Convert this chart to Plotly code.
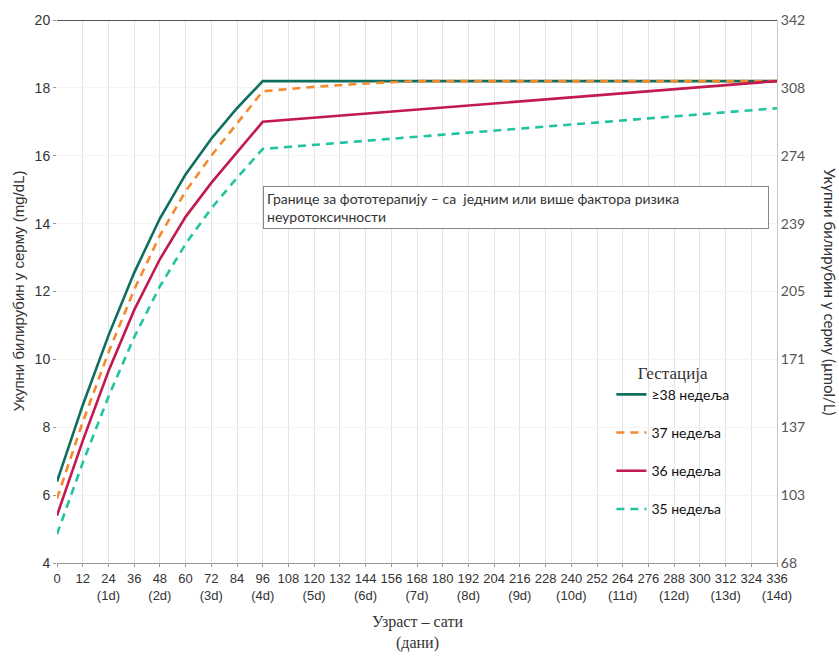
import plotly.graph_objects as go

# ---- data ----
hours_38 = [0, 12, 24, 36, 48, 60, 72, 84, 96, 336]
tsb_38 = [6.4, 8.65, 10.7, 12.55, 14.15, 15.45, 16.5, 17.4, 18.2, 18.2]

hours_37 = [0, 12, 24, 36, 48, 60, 72, 84, 96, 120, 144, 168, 336]
tsb_37 = [5.9, 8.15, 10.2, 12.05, 13.65, 14.95, 16.0, 16.95, 17.9, 18.03, 18.13, 18.2, 18.2]

hours_36 = [0, 12, 24, 36, 48, 60, 72, 84, 96, 336]
tsb_36 = [5.4, 7.6, 9.65, 11.45, 12.95, 14.2, 15.2, 16.1, 17.0, 18.2]

hours_35 = [0, 12, 24, 36, 48, 60, 72, 84, 96, 336]
tsb_35 = [4.85, 6.95, 8.9, 10.65, 12.15, 13.4, 14.45, 15.35, 16.2, 17.4]

names = ["≥38 недеља", "37 недеља", "36 недеља", "35 недеља"]

x_ticks = list(range(0, 337, 12))
x_labels = [str(h) if h % 24 or h == 0 else f"{h}<br>({h // 24}d)" for h in x_ticks]

y_ticks = [4, 6, 8, 10, 12, 14, 16, 18, 20]
y_labels_mg = [str(v) for v in y_ticks]
y_labels_umol = ["68", "103", "137", "171", "205", "239", "274", "308", "342"]

colors = ["#0f6e5e", "#f28a2e", "#c2194e", "#22c3a2"]
dashes = ["solid", "8px,6px", "solid", "8px,6px"]

narrow = "Liberation Sans Narrow, Arial Narrow, Liberation Sans, Arial"
cal = "Lato, Carlito, Calibri, Open Sans"
serif = "Liberation Serif, Times New Roman, serif"

fig = go.Figure()
series = [(hours_38, tsb_38), (hours_37, tsb_37), (hours_36, tsb_36), (hours_35, tsb_35)]
for i, ((hx, hy), nm) in enumerate(zip(series, names)):
    fig.add_trace(go.Scatter(
        x=hx, y=hy, mode="lines", name=nm, legendgroup=str(i),
        line=dict(color=colors[i], width=2.6, dash=dashes[i]),
    ))

# invisible trace to activate the right axis
fig.add_trace(go.Scatter(x=hours_35, y=tsb_35, yaxis="y2", mode="lines",
                         line=dict(width=0), opacity=0, showlegend=False,
                         hoverinfo="skip"))

fig.update_layout(
    width=839, height=657,
    margin=dict(l=57, r=62, t=20, b=94),
    paper_bgcolor="white", plot_bgcolor="white",
    showlegend=True,
    legend=dict(
        x=0.77, y=0.38, xanchor="left", yanchor="top",
        title=dict(text="Гестација", side="top center",
                   font=dict(family=serif, size=17, color="#333")),
        font=dict(family=cal, size=14, color="#111"),
        tracegroupgap=17, itemwidth=30, bgcolor="rgba(0,0,0,0)",
        traceorder="grouped",
    ),
    xaxis=dict(
        range=[0, 336], tickmode="array", tickvals=x_ticks, ticktext=x_labels,
        tickangle=0, automargin=False,
        tickfont=dict(family=narrow, size=13, color="#333"),
        showgrid=True, gridcolor="#e4e4e4", gridwidth=1,
        showline=True, linecolor="#999", linewidth=1,
        ticks="outside", ticklen=3, tickcolor="#999",
        zeroline=False,
    ),
    yaxis=dict(
        range=[4, 20], tickmode="array", tickvals=y_ticks, ticktext=y_labels_mg,
        automargin=False,
        tickfont=dict(family=narrow, size=14, color="#333"),
        showgrid=True, gridcolor="#f3f3f3", gridwidth=1,
        showline=False, ticks="outside", ticklen=3, tickcolor="#999",
        zeroline=False,
    ),
    yaxis2=dict(
        range=[4, 20], overlaying="y", side="right", tickmode="array",
        tickvals=y_ticks, ticktext=y_labels_umol, automargin=False,
        tickfont=dict(family=cal, size=14, color="#555"),
        showgrid=False, showline=True, linecolor="#c8c8c8", linewidth=1,
        ticks="", zeroline=False,
    ),
    shapes=[dict(type="line", xref="paper", yref="y", x0=0, x1=1, y0=20, y1=20,
                 line=dict(color="#555", width=2))],
    annotations=[
        dict(x=96, y=15.12, xref="x", yref="y", xanchor="left", yanchor="top",
             text="Границе за фототерапију – са  једним или више фактора ризика<br>неуротоксичности",
             showarrow=False, align="left", width=498,
             font=dict(family=cal, size=14, color="#333"),
             bordercolor="#888", borderwidth=1, borderpad=3, bgcolor="white"),
        dict(x=-0.054, y=0.5, xref="paper", yref="paper", textangle=-90,
             xanchor="center", yanchor="middle",
             text="Укупни билирубин у серму (mg/dL)", showarrow=False,
             font=dict(family=narrow, size=15, color="#333")),
        dict(x=1.074, y=0.5, xref="paper", yref="paper", textangle=90,
             xanchor="center", yanchor="middle",
             text="Укупни билирубин у серму (µmol/L)", showarrow=False,
             font=dict(family=cal, size=15, color="#333")),
        dict(x=0.5, y=-0.088, xref="paper", yref="paper", yanchor="top",
             xanchor="center",
             text="Узраст – сати<br>(дани)", showarrow=False,
             font=dict(family=serif, size=16, color="#333")),
    ],
)

fig.write_html("out.html", config={"displayModeBar": False},
               post_script="document.body.style.margin='0';")
